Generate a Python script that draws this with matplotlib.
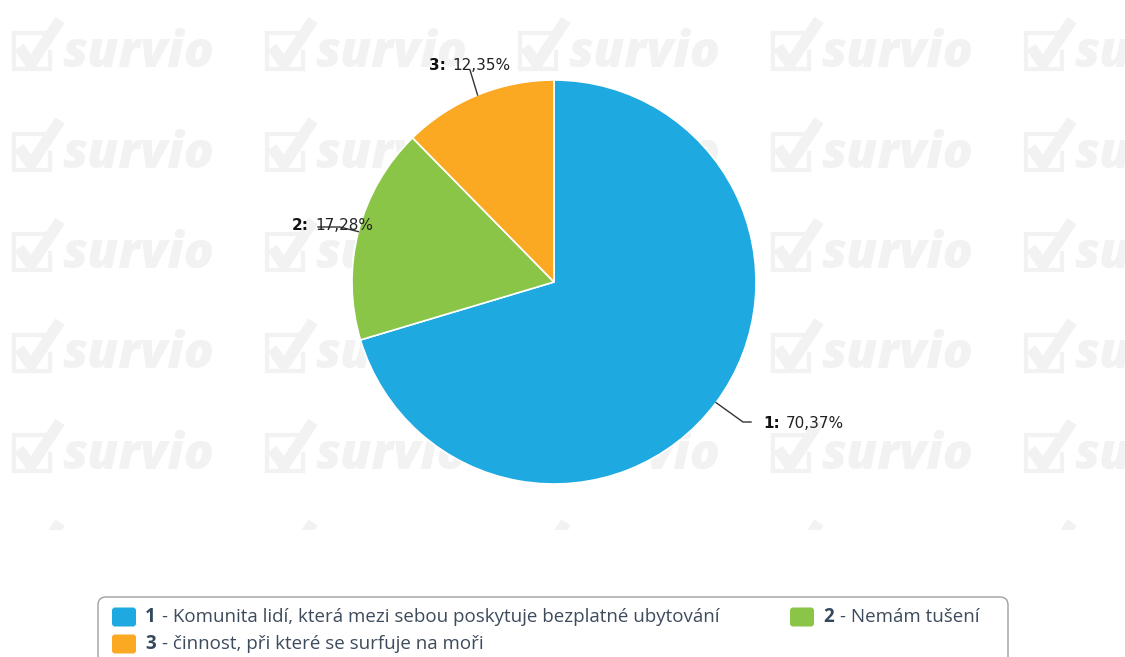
import matplotlib
matplotlib.use("Agg")
import matplotlib.pyplot as plt
from matplotlib.patches import FancyBboxPatch
import numpy as np

# ======== Data ========
codes = ["1", "2", "3"]
answers = [
    "Komunita lidí, která mezi sebou poskytuje bezplatné ubytování",
    "Nemám tušení",
    "činnost, při které se surfuje na moři",
]
shares = [70.37, 17.28, 12.35]
share_labels = ["70,37%", "17,28%", "12,35%"]
colors = ["#1fa9e1", "#8bc548", "#fba823"]

W, H = 1125, 657
fig = plt.figure(figsize=(W / 100, H / 100), dpi=100)

# ======== Watermark background ========
WM_H = 530
wm = fig.add_axes([0, 1 - WM_H / H, 1, WM_H / H])
wm.set_xlim(0, W)
wm.set_ylim(WM_H, 0)
wm.axis("off")
wm_color = "#f2f2f2"
for r in range(6):
    dy = r * 100.5
    for c in range(5):
        dx = c * 253
        # box with check mark
        wm.plot([dx + 44, dx + 14, dx + 14, dx + 50, dx + 50],
                [dy + 33, dy + 33, dy + 69, dy + 69, dy + 52],
                color=wm_color, lw=3, solid_joinstyle="miter", clip_on=True)
        wm.plot([dx + 19, dx + 31, dx + 60], [dy + 47, dy + 64, dy + 20],
                color=wm_color, lw=8, solid_capstyle="butt", clip_on=True)
        wm.text(dx + 62, dy + 67, "survio", fontsize=36, color=wm_color,
                fontfamily="Open Sans", fontweight="heavy", fontstyle="italic",
                va="baseline", ha="left", clip_on=True)

# ======== Main pixel-space axes ========
ax = fig.add_axes([0, 0, 1, 1])
ax.axis("off")
ax.patch.set_alpha(0)

cx, cy, R = 554, 282, 202
wedges, _ = ax.pie(shares, colors=colors, center=(cx, cy), radius=R,
                   startangle=-90, counterclock=True,
                   wedgeprops=dict(edgecolor="white", linewidth=1.2))
ax.set_xlim(0, W)
ax.set_ylim(H, 0)
ax.set_aspect("equal")

# label layout: (elbow points, bold label x, value x, label y)
label_layout = [
    ([(743, 422), (751, 422)], 763, 786, 423),
    ([(340, 227), (318, 227)], 292, 315, 226),
    ([(470, 70)], 429, 452, 66),
]
for w, code, val, (pts, bx, vx, ly) in zip(wedges, codes, share_labels, label_layout):
    mid = np.deg2rad((w.theta1 + w.theta2) / 2)
    ex, ey = cx + R * np.cos(mid), cy + R * np.sin(mid)
    xs = [ex] + [p[0] for p in pts]
    ys = [ey] + [p[1] for p in pts]
    ax.plot(xs, ys, color="#333333", lw=1, zorder=5)
    ax.text(bx, ly, code + ":", fontsize=11, fontweight="bold", color="#111111",
            fontfamily="DejaVu Sans", va="center", ha="left", zorder=6)
    ax.text(vx, ly, val, fontsize=11, color="#222222",
            fontfamily="DejaVu Sans", va="center", ha="left", zorder=6)

# ======== Legend ========
ax.add_patch(FancyBboxPatch((98, 597), 910, 90, boxstyle="round,pad=0,rounding_size=8",
                            facecolor="white", edgecolor="#a0a0a0", lw=1, zorder=7))
leg_pos = [(112, 617), (790, 617), (112, 644)]
for (lx, ly), code, ans, col in zip(leg_pos, codes, answers, colors):
    ax.add_patch(FancyBboxPatch((lx, ly - 9.5), 24, 19, boxstyle="round,pad=0,rounding_size=3",
                                facecolor=col, edgecolor="none", zorder=8))
    ax.text(lx + 33, ly, code, fontsize=13.5, fontweight="bold", color="#34495e",
            fontfamily="Open Sans", va="center", ha="left", zorder=9)
    ax.text(lx + 50, ly, "- " + ans, fontsize=13.5, color="#3d4b5c",
            fontfamily="Open Sans", va="center", ha="left", zorder=9)

fig.savefig("out.png", dpi=100, facecolor="white")
